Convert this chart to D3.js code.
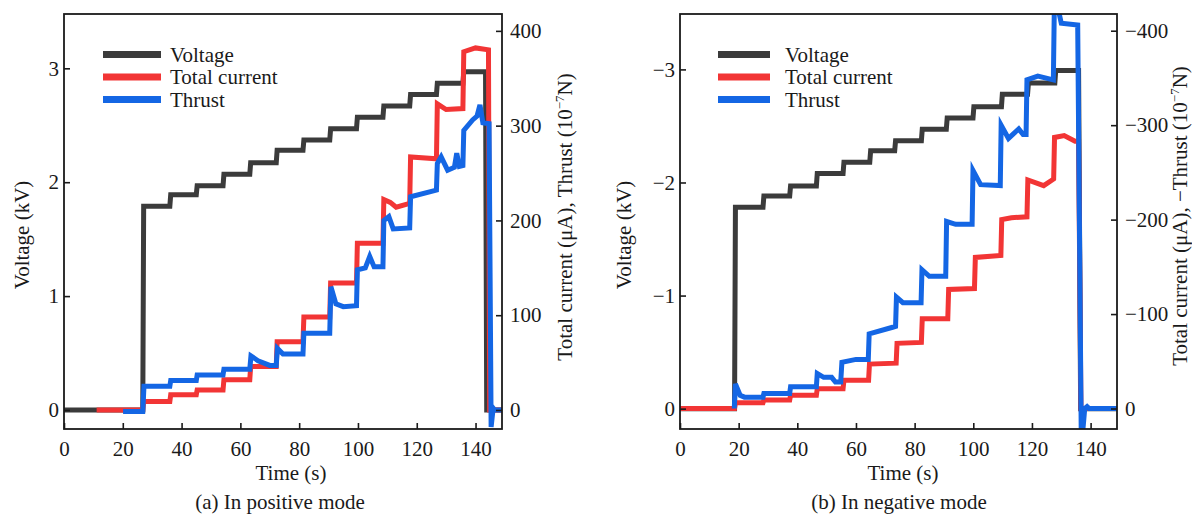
<!DOCTYPE html>
<html><head><meta charset="utf-8">
<script src="https://cdn.jsdelivr.net/npm/d3@7"></script>
<style>
body{margin:0;background:#fff;}
svg{display:block;}
text{font-family:"Liberation Serif","Times New Roman",serif;fill:#1a1a1a;}
</style></head><body>
<svg id="c" width="1192" height="514"></svg>
<script>
// ---------- data ----------
const timeTicks = [0,20,40,60,80,100,120,140];
const posVoltTicks = [0,1,2,3];
const posRightTicks = [0,100,200,300,400];
const negVoltTicks = [0,-1,-2,-3];
const negRightTicks = [0,-100,-200,-300,-400];
const seriesNames = ["Voltage","Total current","Thrust"];
const seriesColors = ["#3b3b3b","#f23535","#1466e4"];
const captions = ["(a) In positive mode","(b) In negative mode"];
const axisTitles = ["Voltage (kV)","Time (s)"];
const rightTitles = ["Total current (μA), Thrust (10","Total current (μA), −Thrust (10"];

// positive mode: [time s, value]
const posVoltage = [[0,0],[26.8,0],[27.1,1.79],[36.0,1.79],[36.3,1.89],[45.0,1.89],[45.3,1.97],[54.1,1.97],[54.4,2.07],[63.2,2.07],[63.5,2.17],[72.2,2.17],[72.5,2.28],[81.3,2.28],[81.6,2.37],[90.4,2.37],[90.7,2.47],[99.5,2.47],[99.8,2.57],[108.5,2.57],[108.8,2.67],[117.6,2.67],[117.9,2.77],[126.7,2.77],[127.0,2.87],[135.7,2.87],[136.0,2.97],[143.4,2.97],[143.8,0],[149,0]];
const posCurrent = [[11.1,0],[26.8,0],[27.1,9],[36.0,9],[36.3,16],[45.0,16],[45.3,21],[54.1,21],[54.4,32],[63.2,32],[63.5,46],[72.2,46],[72.5,72],[81.3,72],[81.6,98],[90.4,98],[90.7,134],[99.5,134],[99.8,176],[108.5,176],[108.8,222],[111,219],[113,214],[117.6,218],[117.9,267],[126.7,265],[127.0,323],[130,317],[135.7,318],[136.0,378],[140,382],[144.4,380],[144.8,0],[149,0]];
const posThrust = [[20.1,-1.5],[26.8,-1.5],[27.2,25],[36.0,25],[36.3,31],[45.0,31],[45.3,37],[54.1,37],[54.4,43],[63.2,43],[63.6,57],[66,52],[70,47],[72.2,47],[72.6,65],[74.5,59],[81.3,59],[81.6,81],[90.4,81],[90.8,130],[92.5,112],[95,109],[99.5,110],[99.8,148],[102.5,150],[104,162],[105.5,151],[108.5,151],[108.8,200],[110.5,204],[112,191],[117.6,192],[117.9,225],[126.7,232],[127.0,260],[128.3,267],[130.5,253],[132.8,256],[133.6,271],[134.5,257],[135.7,258],[136.0,295],[139,306],[140.5,310],[141.5,322],[142.5,303],[144.6,302],[145.3,-18],[146.0,2],[146.5,0],[149,0]];

// negative mode
const negVoltage = [[0,0],[18.6,0],[18.9,-1.78],[28.3,-1.78],[28.6,-1.88],[37.4,-1.88],[37.7,-1.97],[46.5,-1.97],[46.8,-2.08],[55.6,-2.08],[55.9,-2.18],[64.7,-2.18],[65.0,-2.28],[73.2,-2.28],[73.5,-2.37],[82.3,-2.37],[82.6,-2.47],[90.8,-2.47],[91.1,-2.57],[99.9,-2.57],[100.2,-2.67],[109.6,-2.67],[109.9,-2.78],[118.5,-2.78],[118.8,-2.88],[127.8,-2.88],[128.1,-2.99],[135.9,-2.99],[136.6,0],[149,0]];
const negCurrent = [[0,0],[18.6,0],[18.9,-6],[28.3,-6],[28.6,-9],[37.4,-9],[37.7,-14],[46.5,-14],[46.8,-21],[55.6,-21],[55.9,-30],[64.3,-30],[64.6,-47],[73.7,-48],[74.0,-69],[82.3,-70],[82.6,-95],[91.3,-95],[91.6,-126],[100.4,-127],[100.7,-160],[109.4,-162],[109.7,-200],[113,-202],[118.3,-203],[118.6,-242],[124,-236],[127.4,-243],[127.7,-287],[131,-289],[134.7,-283],[135.9,-283],[136.7,0],[149,0]];
const negThrust = [[18.5,0],[18.9,-26],[20.5,-14],[22,-12],[28.3,-12],[28.6,-16],[37.4,-16],[37.7,-23],[46.5,-23],[46.8,-37],[49,-33],[51.7,-33],[53,-28],[54.8,-28],[55.2,-49],[60,-52],[64.2,-52],[64.5,-79],[72.5,-86],[73.5,-87],[73.8,-118],[76,-112],[82.2,-112],[82.5,-147],[85,-140],[90.6,-140],[90.9,-198],[94,-195],[99.6,-195],[99.9,-252],[102.5,-237],[109.2,-236],[109.5,-300],[112,-286],[115.5,-296],[117,-290],[118.0,-290],[118.3,-348],[122,-352],[127.3,-348],[127.6,-418],[128.6,-428],[130,-408],[135.6,-406],[136.8,25],[137.3,25],[138.0,0],[138.8,-2],[139.5,0],[149,0]];

// ---------- drawing ----------
const svg = d3.select("#c");
const FS = 21;
const panels = [
  {x0:64, x1:502, vDom:[-0.167,3.477], cDom:[-20.06,417.8], vTicks:posVoltTicks, cTicks:posRightTicks,
   series:[posVoltage,posCurrent,posThrust], lgX0:103, lgX1:161, lgTX:170,
   lLabX:29, lLabY:235, rLabX:572, rLabY:217, rTitle:rightTitles[0], timeX:291, capX:280, cap:captions[0]},
  {x0:680, x1:1117, vDom:[0.18,-3.49], cDom:[21.7,-417.7], vTicks:negVoltTicks, cTicks:negRightTicks,
   series:[negVoltage,negCurrent,negThrust], lgX0:718, lgX1:770, lgTX:785,
   lLabX:631, lLabY:235, rLabX:1187, rLabY:216, rTitle:rightTitles[1], timeX:903, capX:899, cap:captions[1]}
];
const Y0 = 14, Y1 = 429;

panels.forEach((p, i) => {
  const x = d3.scaleLinear().domain([0,149]).range([p.x0, p.x1]);
  const yV = d3.scaleLinear().domain(p.vDom).range([Y1, Y0]);
  const yC = d3.scaleLinear().domain(p.cDom).range([Y1, Y0]);
  const g = svg.append("g");

  const clipId = "clip" + i;
  svg.append("clipPath").attr("id", clipId).append("rect")
    .attr("x", p.x0).attr("y", Y0).attr("width", p.x1 - p.x0).attr("height", Y1 - Y0);

  const lineV = d3.line().x(d => x(d[0])).y(d => yV(d[1]));
  const lineC = d3.line().x(d => x(d[0])).y(d => yC(d[1]));
  const lines = g.append("g").attr("clip-path", `url(#${clipId})`);
  p.series.forEach((s, k) => {
    lines.append("path").attr("d", k === 0 ? lineV(s) : lineC(s))
      .attr("fill", "none").attr("stroke", seriesColors[k])
      .attr("stroke-width", 5).attr("stroke-linejoin", "miter");
  });

  // axes
  const styleAxis = sel => {
    sel.attr("font-size", FS).attr("font-family", "Liberation Serif, serif");
    sel.select(".domain").remove();
    sel.selectAll(".tick line").attr("stroke", "#1a1a1a").attr("stroke-width", 1.6);
    sel.selectAll(".tick text").attr("fill", "#1a1a1a");
  };
  g.append("g").attr("transform", `translate(0,${Y1})`)
    .call(d3.axisBottom(x).tickValues(timeTicks).tickSizeInner(-6).tickSizeOuter(0).tickPadding(12))
    .call(styleAxis);
  g.append("g").attr("transform", `translate(${p.x0},0)`)
    .call(d3.axisLeft(yV).tickValues(p.vTicks).tickSizeInner(-6).tickSizeOuter(0).tickPadding(5).tickFormat(d3.format("d")))
    .call(styleAxis);
  g.append("g").attr("transform", `translate(${p.x1},0)`)
    .call(d3.axisRight(yC).tickValues(p.cTicks).tickSizeInner(-6).tickSizeOuter(0).tickPadding(8).tickFormat(d3.format("d")))
    .call(styleAxis);

  // frame
  g.append("rect").attr("x", p.x0).attr("y", Y0).attr("width", p.x1 - p.x0).attr("height", Y1 - Y0)
    .attr("fill", "none").attr("stroke", "#1a1a1a").attr("stroke-width", 1.8);

  // legend
  const lgY = [54.5, 77, 99.5];
  seriesNames.forEach((n, k) => {
    g.append("line").attr("x1", p.lgX0).attr("x2", p.lgX1).attr("y1", lgY[k]).attr("y2", lgY[k])
      .attr("stroke", seriesColors[k]).attr("stroke-width", 7);
    g.append("text").attr("x", p.lgTX).attr("y", lgY[k] + 7).attr("font-size", FS).text(n);
  });

  // titles
  g.append("text").attr("transform", `translate(${p.lLabX},${p.lLabY}) rotate(-90)`)
    .attr("text-anchor", "middle").attr("font-size", FS).text(axisTitles[0]);
  const rt = g.append("text").attr("transform", `translate(${p.rLabX},${p.rLabY}) rotate(-90)`)
    .attr("text-anchor", "middle").attr("font-size", FS);
  rt.append("tspan").text(p.rTitle);
  rt.append("tspan").attr("font-size", 13).attr("dy", -8).text("−7");
  rt.append("tspan").attr("font-size", FS).attr("dy", 8).text("N)");
  g.append("text").attr("x", p.timeX).attr("y", 480).attr("text-anchor", "middle").attr("font-size", FS).text(axisTitles[1]);
  g.append("text").attr("x", p.capX).attr("y", 509).attr("text-anchor", "middle").attr("font-size", FS).text(p.cap);
});
</script>
</body></html>
